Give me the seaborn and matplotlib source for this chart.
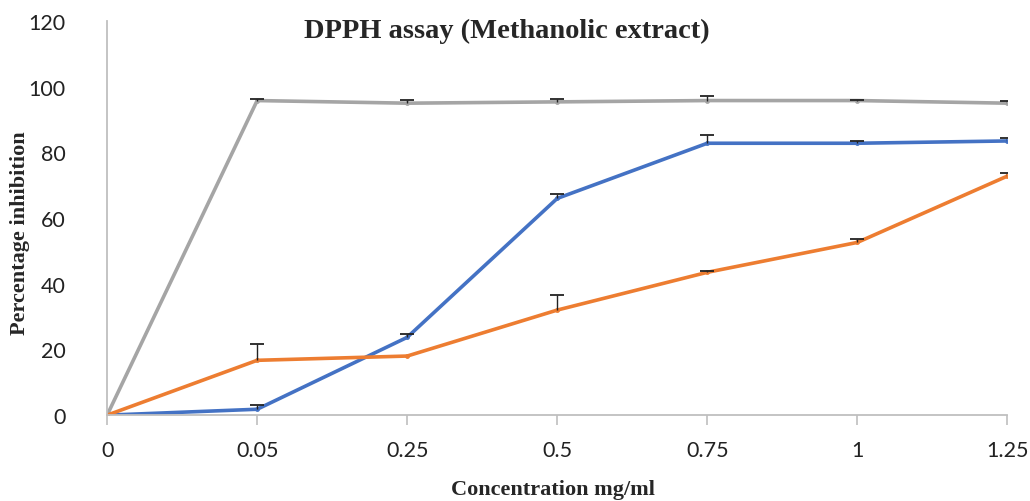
import numpy as np
import pandas as pd
import matplotlib
matplotlib.use("Agg")
import matplotlib.pyplot as plt
import seaborn as sns

concentrations = ["0", "0.05", "0.25", "0.5", "0.75", "1", "1.25"]
blue_vals = [0, 1.8, 23.7, 66, 82.8, 82.8, 83.5]
blue_err = [0, 1.2, 1.0, 1.3, 2.6, 0.6, 0.8]
orange_vals = [0, 16.7, 18, 32, 43.5, 52.6, 72.8]
orange_err = [0, 5.0, 0, 4.6, 0.5, 1.0, 1.0]
gray_vals = [0, 95.8, 95.0, 95.4, 95.8, 95.8, 95]
gray_err = [0, 0.5, 1.0, 1.0, 1.5, 0.2, 0.6]
y_ticks = [0, 20, 40, 60, 80, 100, 120]

colors = {"blue": "#4472C4", "orange": "#ED7D31", "gray": "#A5A5A5"}

sns.set_theme(style="white")
plt.rcParams['font.family'] = ['Lato', 'DejaVu Sans']

fig = plt.figure(figsize=(10.30, 5.02), dpi=100)
ax = fig.add_axes([0.104, 0.171, 0.874, 0.785])

pos = np.arange(len(concentrations))
series = [("gray", gray_vals, gray_err), ("blue", blue_vals, blue_err), ("orange", orange_vals, orange_err)]
for name, vals, err in series:
    vals_a = np.array(vals, dtype=float)
    err_a = np.array(err, dtype=float)
    df = pd.DataFrame({"x": pos, "y": vals_a})
    sns.lineplot(data=df, x="x", y="y", ax=ax, color=colors[name], linewidth=2.6,
                 marker="o", markersize=3.5, markeredgewidth=0, zorder=2)
    has = err_a > 0
    # upper-only error bars: stem from the point up, cap on top
    ax.errorbar(pos[has], vals_a[has], yerr=[np.zeros(has.sum()), err_a[has]], fmt="none",
                ecolor="#222222", elinewidth=1.0, capsize=0, zorder=3)
    ax.plot(pos[has], (vals_a + err_a)[has], linestyle="none", marker="_", markersize=10,
            markeredgewidth=1.3, color="#222222", zorder=3)

ax.set_xlim(0, len(concentrations) - 1)
ax.set_ylim(0, 120)
ax.set_xticks(pos)
ax.set_xticklabels(concentrations, fontsize=15.5)
ax.set_yticks(y_ticks)
ax.set_yticklabels([str(t) for t in y_ticks], fontsize=15.5)
ax.set_xlabel("")
ax.set_ylabel("")

for s in ["top", "right"]:
    ax.spines[s].set_visible(False)
for s in ["left", "bottom"]:
    ax.spines[s].set_color("#BFBFBF")
    ax.spines[s].set_linewidth(1.3)
ax.tick_params(axis="x", which="both", bottom=True, length=7, color="#BFBFBF", width=1.2, pad=11)
ax.tick_params(axis="y", left=False, pad=24)
for lbl in ax.get_xticklabels() + ax.get_yticklabels():
    lbl.set_color("#222222")

fig.text(0.492, 0.938, "DPPH assay (Methanolic extract)", ha="center", va="center",
         fontsize=20.5, fontweight="bold", family="Liberation Serif")
fig.text(0.537, 0.023, "Concentration mg/ml", ha="center", va="center",
         fontsize=16, fontweight="bold", family="Liberation Serif")
fig.text(0.019, 0.536, "Percentage inhibition", ha="center", va="center", rotation=90,
         fontsize=16, fontweight="bold", family="Liberation Serif")

fig.savefig("out.png", dpi=100, facecolor="white")
